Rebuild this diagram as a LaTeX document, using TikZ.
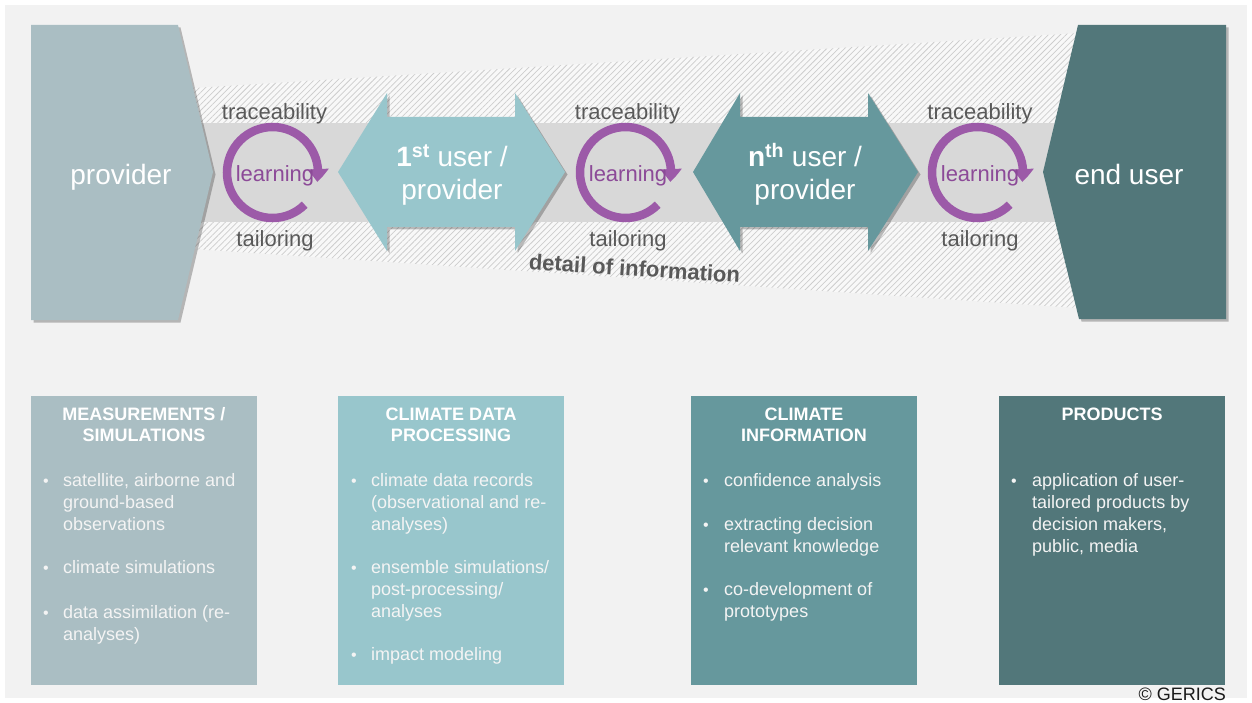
\documentclass[tikz,border=0pt]{standalone}
\usepackage{fontspec}
\setmainfont{Liberation Sans}
\usetikzlibrary{arrows.meta,bending,patterns.meta,shadows}
\definecolor{bg}{HTML}{F2F2F2}
\definecolor{cA}{HTML}{AABEC3}
\definecolor{cB}{HTML}{98C6CC}
\definecolor{cC}{HTML}{66989D}
\definecolor{cD}{HTML}{52777A}
\definecolor{band}{HTML}{D8D8D8}
\definecolor{hatchbg}{HTML}{F8F8F8}
\definecolor{hatchln}{HTML}{CDCDCD}
\definecolor{lp}{HTML}{9C5AA8}
\definecolor{lt}{HTML}{8C4A98}
\definecolor{dg}{HTML}{595959}
\definecolor{bt}{HTML}{F4F4F4}
\begin{document}
\begin{tikzpicture}[x=1pt,y=-1pt,
  shd/.style={drop shadow={shadow xshift=2.5pt,shadow yshift=-2.5pt,opacity=.25,fill=black}},
  lbl/.style={font=\fontsize{22}{26}\selectfont, text=dg, anchor=base, inner sep=0},
  lrn/.style={font=\fontsize{22}{26}\selectfont, text=lt, anchor=base, inner sep=0},
  big/.style={font=\fontsize{28}{33}\selectfont, text=white, anchor=base, inner sep=0},
  larrow/.style={line width=8.5pt, draw=lp, -{Triangle[width=21pt,length=13pt,bend]}},
  btitle/.style={font=\fontsize{18}{21}\selectfont\bfseries, text=white, anchor=base, inner sep=0},
  btxt/.style={font=\fontsize{18}{22}\selectfont, text=bt, anchor=base west, inner sep=0},
  bdot/.style={font=\fontsize{16}{22}\selectfont, text=bt, anchor=base, inner sep=0}
]
\useasboundingbox (0,0) rectangle (1252,703);
\fill[white] (0,0) rectangle (1252,703);
\fill[bg] (5,5) rectangle (1247,698);

% hatched wedge
\path[fill=hatchbg] (150,90.7) -- (1100,31.7) -- (1100,309.5) -- (150,246.1) -- cycle;
\path[pattern={Lines[angle=45,distance=4.2pt,line width=0.75pt]}, pattern color=hatchln]
  (150,90.7) -- (1100,31.7) -- (1100,309.5) -- (150,246.1) -- cycle;
% gray band
\fill[band] (200,123) rectangle (1060,222);

% provider and end user
\fill[cA, shd] (31,25) -- (178,25) -- (213,172) -- (178,320) -- (31,320) -- cycle;
\fill[cD, shd] (1078,25) -- (1226,25) -- (1226,319) -- (1079,319) -- (1043,172) -- cycle;

% double arrows
\fill[cB, shd] (338,172) -- (387,93) -- (387,117) -- (515,117) -- (515,93) -- (565,172)
  -- (515,251) -- (515,227) -- (387,227) -- (387,251) -- cycle;
\fill[cC, shd] (693,172) -- (740,93) -- (740,117) -- (868,117) -- (868,93) -- (918,172)
  -- (868,251) -- (868,227) -- (740,227) -- (740,251) -- cycle;

% cycle arrows
\coordinate (c1) at (272.5,172.5);
\coordinate (c2) at (625.5,172.5);
\coordinate (c3) at (977.5,172.5);
\begin{scope}[x=1pt,y=1pt]
\draw[larrow] (c1) ++(-45:45.5) arc[start angle=-45,end angle=-372,radius=45.5];
\draw[larrow] (c2) ++(-45:45.5) arc[start angle=-45,end angle=-372,radius=45.5];
\draw[larrow] (c3) ++(-45:45.5) arc[start angle=-45,end angle=-372,radius=45.5];
\end{scope}

% labels
\node[big] (prov) at (121,185) {provider};
\node[big] (endu) at (1129,185) {end user};
\node[big] (u1a) at (452,167) {\textbf{1\textsuperscript{st}} user /};
\node[big] (u1b) at (452,200) {provider};
\node[big] (una) at (805,167) {\textbf{n\textsuperscript{th}} user /};
\node[big] (unb) at (805,200) {provider};

\node[lbl] (tr1) at (274.5,120) {traceability};
\node[lbl] (tr2) at (627.5,120) {traceability};
\node[lbl] (tr3) at (980,120) {traceability};
\node[lbl] (ta1) at (275,247) {tailoring};
\node[lbl] (ta2) at (628,247) {tailoring};
\node[lbl] (ta3) at (980,247) {tailoring};
\node[lrn] (le1) at (275,182) {learning};
\node[lrn] (le2) at (628,182) {learning};
\node[lrn] (le3) at (980,182) {learning};

\node[lbl, font=\fontsize{22}{26}\selectfont\bfseries, rotate=-3.7] (det) at (634,276) {detail of information};

% bottom boxes
\fill[cA] (31,396) rectangle (257,685);
\fill[cB] (338,396) rectangle (564,685);
\fill[cC] (691,396) rectangle (917,685);
\fill[cD] (999,396) rectangle (1225,685);

\node[btitle] (t1a) at (144,420) {MEASUREMENTS /};
\node[btitle] (t1b) at (144,441) {SIMULATIONS};
\node[btitle] (t2a) at (451,420) {CLIMATE DATA};
\node[btitle] (t2b) at (451,441) {PROCESSING};
\node[btitle] (t3a) at (804,420) {CLIMATE};
\node[btitle] (t3b) at (804,441) {INFORMATION};
\node[btitle] (t4a) at (1112,420) {PRODUCTS};

% box 1
\node[bdot] (d11) at (46,486) {•};
\node[btxt] (l11) at (63,486) {satellite, airborne and};
\node[btxt] (l12) at (63,508) {ground-based};
\node[btxt] (l13) at (63,530) {observations};
\node[bdot] (d12) at (46,573) {•};
\node[btxt] (l14) at (63,573) {climate simulations};
\node[bdot] (d13) at (46,618) {•};
\node[btxt] (l15) at (63,618) {data assimilation (re-};
\node[btxt] (l16) at (63,640) {analyses)};
% box 2
\node[bdot] (d21) at (354,486) {•};
\node[btxt] (l21) at (371,486) {climate data records};
\node[btxt] (l22) at (371,508) {(observational and re-};
\node[btxt] (l23) at (371,530) {analyses)};
\node[bdot] (d22) at (354,573) {•};
\node[btxt] (l24) at (371,573) {ensemble simulations/};
\node[btxt] (l25) at (371,595) {post-processing/};
\node[btxt] (l26) at (371,617) {analyses};
\node[bdot] (d23) at (354,660) {•};
\node[btxt] (l27) at (371,660) {impact modeling};
% box 3
\node[bdot] (d31) at (706,486) {•};
\node[btxt] (l31) at (724,486) {confidence analysis};
\node[bdot] (d32) at (706,530) {•};
\node[btxt] (l32) at (724,530) {extracting decision};
\node[btxt] (l33) at (724,552) {relevant knowledge};
\node[bdot] (d33) at (706,595) {•};
\node[btxt] (l34) at (724,595) {co-development of};
\node[btxt] (l35) at (724,617) {prototypes};
% box 4
\node[bdot] (d41) at (1014,486) {•};
\node[btxt] (l41) at (1032,486) {application of user-};
\node[btxt] (l42) at (1032,508) {tailored products by};
\node[btxt] (l43) at (1032,530) {decision makers,};
\node[btxt] (l44) at (1032,552) {public, media};

\node[font=\fontsize{18}{20}\selectfont, text=black!90, anchor=base east, inner sep=0] (copy) at (1226,700) {© GERICS};
\end{tikzpicture}
\end{document}
